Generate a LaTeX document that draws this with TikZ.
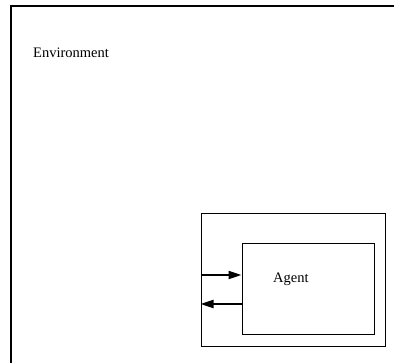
\documentclass[tikz,border=0pt]{standalone}
\usepackage{fontspec}
\setmainfont{Liberation Serif}
\usetikzlibrary{arrows.meta}
\begin{document}
\begin{tikzpicture}[x=1pt,y=-1pt,
  box/.style={draw,line width=1pt,inner sep=0pt},
  lbl/.style={font=\fontsize{14.5}{17}\selectfont,inner sep=0pt},
  flow/.style={line width=2pt,-{Triangle[length=13pt,width=8pt]}}]
\useasboundingbox (0,0) rectangle (394,363);
\draw[line width=1.6pt] (11,363) -- (11,6) -- (394,6);
\node[lbl,anchor=west] (env) at (33,53) {Environment};
\node[box,minimum width=184pt,minimum height=133pt] (mid) at (293,280.5) {};
\node[box,minimum width=132pt,minimum height=91pt] (agent) at (308,289.5) {};
\node[lbl,anchor=west] (agtxt) at (273,279) {Agent};
\coordinate (in1) at (mid.west |- 0,275);
\coordinate (in2) at (agent.west |- 0,275);
\coordinate (out1) at (agent.west |- 0,304);
\coordinate (out2) at (mid.west |- 0,304);
\draw[flow] (in1) -- (in2);
\draw[flow] (out1) -- (out2);
\end{tikzpicture}
\end{document}
